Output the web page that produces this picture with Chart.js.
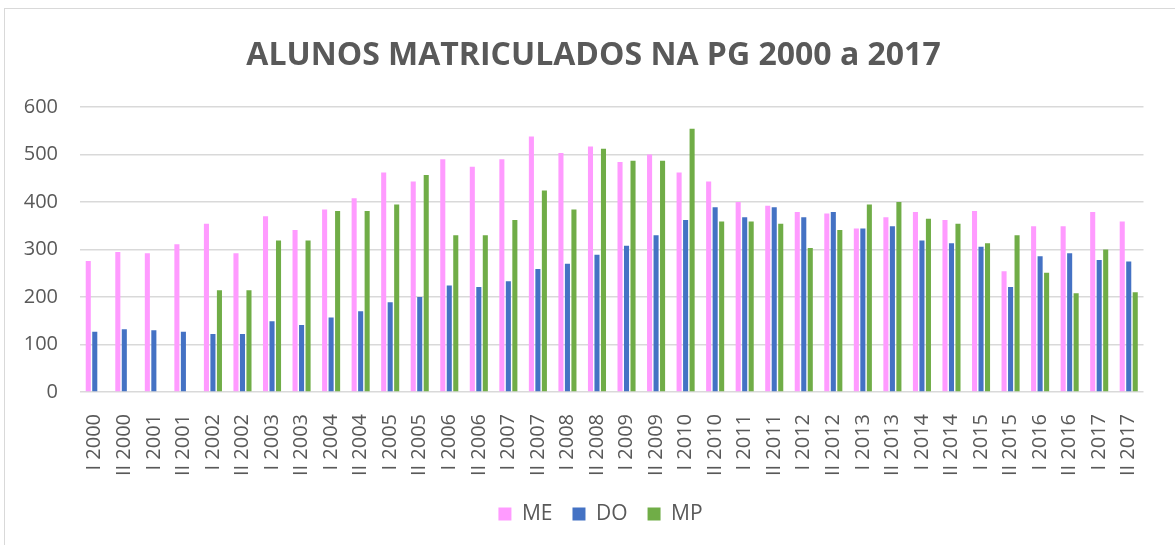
<!DOCTYPE html>
<html>
<head>
<meta charset="utf-8">
<script src="https://cdn.jsdelivr.net/npm/chart.js@4/dist/chart.umd.min.js"></script>
<style>
  html, body { margin: 0; padding: 0; background: #ffffff; }
  #wrap { position: relative; width: 1175px; height: 545px; overflow: hidden; }
  #frame { position: absolute; left: 4px; top: 8px; width: 1200px; height: 600px; border: 1.5px solid #d9d9d9; box-sizing: border-box; pointer-events: none; }
  canvas { position: absolute; left: 0; top: 0; }
</style>
</head>
<body>
<div id="wrap">
  <canvas id="c" width="1175" height="545"></canvas>
  <div id="frame"></div>
</div>
<script>
const categories = ["I 2000","II 2000","I 2001","II 2001","I 2002","II 2002","I 2003","II 2003","I 2004","II 2004","I 2005","II 2005","I 2006","II 2006","I 2007","II 2007","I 2008","II 2008","I 2009","II 2009","I 2010","II 2010","I 2011","II 2011","I 2012","II 2012","I 2013","II 2013","I 2014","II 2014","I 2015","II 2015","I 2016","II 2016","I 2017","II 2017"];
const seriesME = [276,295,292,311,354,292,370,341,384,408,462,443,490,474,490,538,503,517,484,500,462,443,400,392,379,376,344,368,379,362,381,254,349,349,379,359];
const seriesDO = [127,132,130,127,122,122,149,141,157,170,189,200,224,221,233,259,270,289,308,330,362,389,368,389,368,379,344,349,319,313,306,221,286,292,278,275];
const seriesMP = [null,null,null,null,214,214,319,319,381,381,395,457,330,330,362,424,384,512,487,487,554,359,359,354,303,341,395,400,365,354,313,330,251,208,300,210];
const yTicks = [0,100,200,300,400,500,600];
const titleText = "ALUNOS MATRICULADOS NA PG 2000 a 2017";

const textColor = "#595959";
const fontFamily = "'Open Sans', 'DejaVu Sans', sans-serif";

const boxShift = {
  id: "boxShift",
  afterLayout(chart) {
    if (chart.legend) { chart.legend.left += 22.5; chart.legend.right += 22.5; }
    if (chart.titleBlock) { chart.titleBlock.left += 15.5; chart.titleBlock.right += 15.5; }
  }
};

new Chart(document.getElementById("c"), {
  type: "bar",
  data: {
    labels: categories,
    datasets: [
      { label: "ME", data: seriesME, backgroundColor: "#FF9BFF" },
      { label: "DO", data: seriesDO, backgroundColor: "#4472C4" },
      { label: "MP", data: seriesMP, backgroundColor: "#70AD47" }
    ]
  },
  plugins: [boxShift],
  options: {
    responsive: false,
    animation: false,
    devicePixelRatio: 1,
    layout: { padding: { left: 0, right: 19, top: 0, bottom: 10.5 } },
    datasets: { bar: { barPercentage: 0.78, categoryPercentage: 0.66, borderWidth: 0 } },
    plugins: {
      title: {
        display: true,
        text: titleText,
        color: textColor,
        font: { family: fontFamily, size: 32, weight: "bold" },
        padding: { top: 37, bottom: 31.6 }
      },
      legend: {
        display: true,
        position: "bottom",
        labels: {
          color: textColor,
          font: { family: fontFamily, size: 21 },
          boxWidth: 13,
          boxHeight: 13,
          padding: 20
        }
      },
      tooltip: { enabled: false }
    },
    scales: {
      y: {
        min: 0,
        max: 600,
        afterBuildTicks: (scale) => { scale.ticks = yTicks.map(v => ({ value: v })); },
        afterFit: (scale) => { scale.width = 80; },
        border: { display: false },
        grid: { color: "#d9d9d9", lineWidth: 1.5, drawTicks: false },
        ticks: { color: textColor, font: { family: fontFamily, size: 20 }, padding: 22 }
      },
      x: {
        afterFit: (scale) => { scale.height = 91.5; },
        border: { display: false },
        grid: { display: false, drawTicks: false },
        ticks: { color: textColor, font: { family: fontFamily, size: 20 }, minRotation: 90, maxRotation: 90, padding: 22, autoSkip: false }
      }
    }
  }
});
</script>
</body>
</html>
